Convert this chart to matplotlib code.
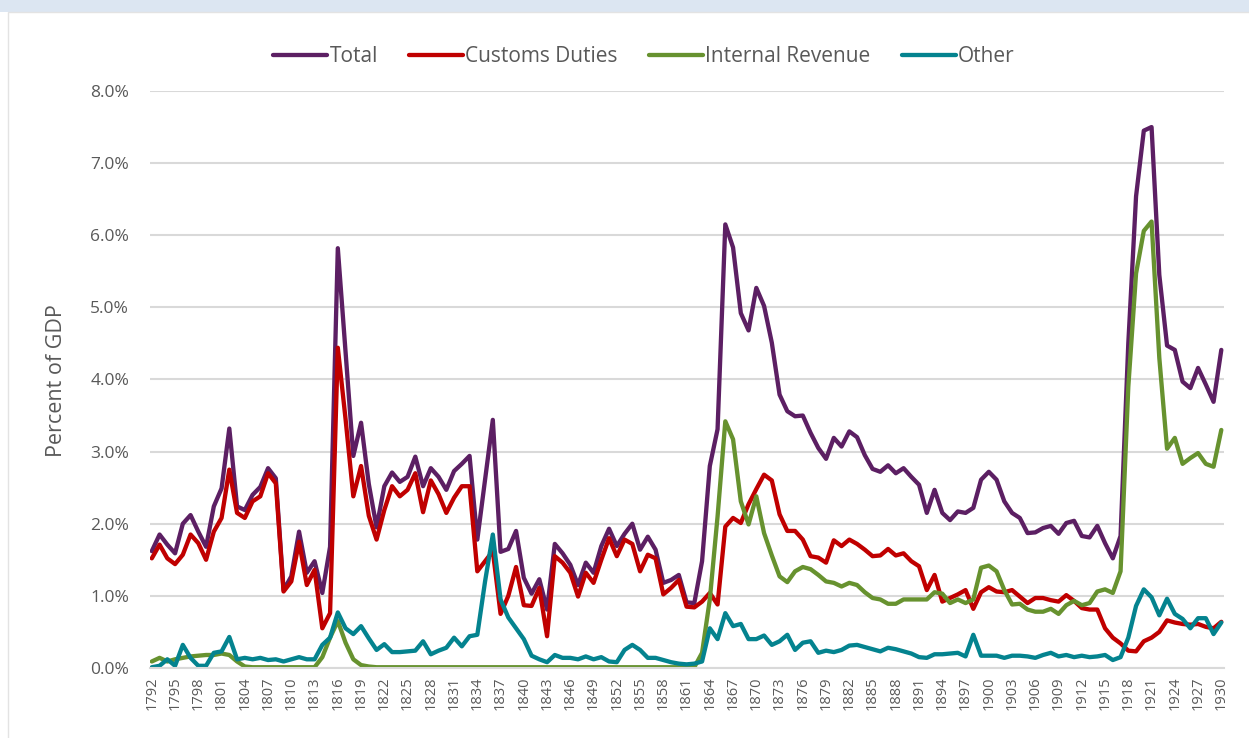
import matplotlib
matplotlib.use("Agg")
import matplotlib.pyplot as plt
from matplotlib.patches import Rectangle
from matplotlib.ticker import FuncFormatter
import numpy as np

plt.rcParams['font.family'] = ['Open Sans', 'DejaVu Sans']

years = list(range(1792, 1931))

total = [
    1.62, 1.85, 1.71, 1.59, 2.00, 2.12, 1.89, 1.68,                    # 1792-1799
    2.24, 2.49, 3.32, 2.24, 2.19, 2.40, 2.51, 2.77, 2.63, 1.08,        # 1800-1809
    1.27, 1.89, 1.32, 1.48, 1.04, 1.68, 5.82, 4.38, 2.94, 3.40,        # 1810-1819
    2.55, 1.95, 2.52, 2.71, 2.58, 2.65, 2.93, 2.52, 2.77, 2.65,        # 1820-1829
    2.47, 2.73, 2.83, 2.94, 1.78, 2.61, 3.44, 1.61, 1.65, 1.90,        # 1830-1839
    1.25, 1.03, 1.23, 0.81, 1.72, 1.59, 1.43, 1.15, 1.46, 1.32,        # 1840-1849
    1.69, 1.93, 1.69, 1.86, 2.00, 1.64, 1.82, 1.64, 1.18, 1.22,        # 1850-1859
    1.29, 0.91, 0.90, 1.48, 2.80, 3.31, 6.15, 5.83, 4.92, 4.68,        # 1860-1869
    5.27, 5.02, 4.51, 3.79, 3.56, 3.49, 3.50, 3.26, 3.05, 2.90,        # 1870-1879
    3.19, 3.07, 3.28, 3.20, 2.95, 2.76, 2.72, 2.81, 2.70, 2.77,        # 1880-1889
    2.65, 2.54, 2.15, 2.47, 2.15, 2.05, 2.17, 2.15, 2.22, 2.61,        # 1890-1899
    2.72, 2.61, 2.31, 2.15, 2.08, 1.87, 1.88, 1.94, 1.97, 1.86,        # 1900-1909
    2.01, 2.04, 1.83, 1.81, 1.97, 1.73, 1.52, 1.83, 4.50, 6.54,        # 1910-1919
    7.45, 7.50, 5.45, 4.47, 4.41, 3.97, 3.88, 4.16, 3.93, 3.69,        # 1920-1929
    4.41,                                                              # 1930
]

customs = [
    1.52, 1.71, 1.52, 1.44, 1.57, 1.85, 1.73, 1.50,
    1.89, 2.08, 2.75, 2.15, 2.08, 2.31, 2.38, 2.70, 2.56, 1.06,
    1.20, 1.75, 1.15, 1.36, 0.55, 0.76, 4.44, 3.45, 2.38, 2.80,
    2.11, 1.78, 2.19, 2.52, 2.38, 2.47, 2.70, 2.16, 2.60, 2.41,
    2.15, 2.36, 2.52, 2.52, 1.34, 1.48, 1.62, 0.75, 1.00, 1.40,
    0.87, 0.86, 1.11, 0.44, 1.55, 1.46, 1.32, 0.99, 1.32, 1.18,
    1.50, 1.80, 1.55, 1.78, 1.72, 1.34, 1.57, 1.52, 1.02, 1.11,
    1.22, 0.85, 0.84, 0.92, 1.04, 0.88, 1.96, 2.08, 2.01, 2.27,
    2.48, 2.68, 2.60, 2.13, 1.90, 1.90, 1.78, 1.55, 1.53, 1.46,
    1.77, 1.69, 1.78, 1.72, 1.64, 1.55, 1.56, 1.65, 1.56, 1.59,
    1.48, 1.41, 1.08, 1.29, 0.92, 0.97, 1.02, 1.08, 0.82, 1.05,
    1.12, 1.06, 1.05, 1.08, 0.99, 0.90, 0.97, 0.97, 0.94, 0.92,
    1.01, 0.93, 0.83, 0.81, 0.81, 0.55, 0.42, 0.34, 0.24, 0.23,
    0.37, 0.42, 0.50, 0.66, 0.63, 0.61, 0.60, 0.61, 0.57, 0.55,
    0.64,
]

internal = [
    0.09, 0.14, 0.09, 0.12, 0.14, 0.16, 0.17, 0.18,
    0.18, 0.20, 0.18, 0.09, 0.02, 0.01, 0.01, 0.01, 0.01, 0.01,
    0.01, 0.01, 0.01, 0.01, 0.15, 0.42, 0.65, 0.35, 0.12, 0.04,
    0.02, 0.01, 0.01, 0.01, 0.01, 0.01, 0.01, 0.01, 0.01, 0.01,
    0.01, 0.01, 0.01, 0.01, 0.01, 0.01, 0.01, 0.01, 0.01, 0.01,
    0.01, 0.01, 0.01, 0.01, 0.01, 0.01, 0.01, 0.01, 0.01, 0.01,
    0.01, 0.01, 0.01, 0.01, 0.01, 0.01, 0.01, 0.01, 0.01, 0.01,
    0.01, 0.01, 0.01, 0.21, 0.95, 2.10, 3.42, 3.17, 2.31, 1.99,
    2.38, 1.87, 1.56, 1.27, 1.19, 1.34, 1.40, 1.37, 1.29, 1.20,
    1.18, 1.13, 1.18, 1.15, 1.05, 0.97, 0.95, 0.89, 0.89, 0.95,
    0.95, 0.95, 0.95, 1.05, 1.03, 0.90, 0.95, 0.90, 0.95, 1.39,
    1.42, 1.34, 1.08, 0.88, 0.89, 0.81, 0.78, 0.78, 0.82, 0.75,
    0.87, 0.93, 0.87, 0.90, 1.06, 1.09, 1.04, 1.34, 3.90, 5.47,
    6.06, 6.19, 4.30, 3.04, 3.19, 2.83, 2.91, 2.98, 2.83, 2.79,
    3.30,
]

other = [
    0.01, 0.03, 0.12, 0.03, 0.32, 0.14, 0.03, 0.03,
    0.21, 0.23, 0.43, 0.12, 0.14, 0.12, 0.14, 0.11, 0.12, 0.09,
    0.12, 0.15, 0.12, 0.12, 0.32, 0.42, 0.77, 0.55, 0.47, 0.58,
    0.41, 0.25, 0.33, 0.22, 0.22, 0.23, 0.24, 0.37, 0.19, 0.24,
    0.28, 0.42, 0.30, 0.44, 0.46, 1.20, 1.85, 0.95, 0.70, 0.55,
    0.40, 0.17, 0.12, 0.08, 0.18, 0.14, 0.14, 0.12, 0.16, 0.12,
    0.15, 0.09, 0.08, 0.25, 0.32, 0.25, 0.14, 0.14, 0.11, 0.08,
    0.06, 0.05, 0.06, 0.09, 0.55, 0.40, 0.76, 0.58, 0.61, 0.40,
    0.40, 0.45, 0.32, 0.37, 0.46, 0.25, 0.35, 0.37, 0.21, 0.24,
    0.22, 0.25, 0.31, 0.32, 0.29, 0.26, 0.23, 0.28, 0.26, 0.23,
    0.20, 0.15, 0.14, 0.19, 0.19, 0.20, 0.21, 0.16, 0.46, 0.17,
    0.17, 0.17, 0.14, 0.17, 0.17, 0.16, 0.14, 0.18, 0.21, 0.16,
    0.18, 0.15, 0.17, 0.15, 0.16, 0.18, 0.11, 0.15, 0.42, 0.86,
    1.09, 0.98, 0.73, 0.96, 0.75, 0.68, 0.55, 0.69, 0.69, 0.47,
    0.63,
]

series = [
    ("Total", total, "#5C1F63"),
    ("Customs Duties", customs, "#C00000"),
    ("Internal Revenue", internal, "#67922F"),
    ("Other", other, "#04838F"),
]

grey = "#595959"

fig = plt.figure(figsize=(12.49, 7.38), dpi=100)
# chart frame like the spreadsheet chart area
fig.patches.append(Rectangle((0, 0.984), 1, 0.016, transform=fig.transFigure,
                             facecolor="#DCE6F2", edgecolor="none"))
fig.patches.append(Rectangle((0.0064, -0.01), 1.1, 0.994, transform=fig.transFigure,
                             facecolor="none", edgecolor="#E3E3E3", linewidth=1))

ax = fig.add_axes([0.120, 0.0949, 0.860, 0.7818])

for name, vals, col in series:
    ax.plot(years, np.array(vals) / 100, color=col, linewidth=3.1, label=name,
            solid_joinstyle="round", solid_capstyle="round")

ax.set_xlim(1791.75, 1930.35)
ax.set_ylim(0, 0.08)
ax.set_yticks(np.arange(0, 0.081, 0.01))
ax.yaxis.set_major_formatter(FuncFormatter(lambda v, p: f"{v * 100:.1f}%"))
ax.set_xticks(years[::3])
ax.set_xticklabels([str(y) for y in years[::3]], rotation=90)

ax.grid(axis="y", color="#D9D9D9", linewidth=1.5)
ax.set_axisbelow(True)
for s in ["top", "right", "left"]:
    ax.spines[s].set_visible(False)
ax.spines["bottom"].set_color("#D9D9D9")
ax.spines["bottom"].set_linewidth(1.5)
ax.tick_params(axis="y", length=0, labelsize=12.5, labelcolor=grey, pad=15)
ax.tick_params(axis="x", length=0, labelsize=10.5, labelcolor=grey, pad=6)

fig.text(57 / 1249, 1 - 381 / 738, "Percent of GDP", rotation=90, ha="center",
         va="center", fontsize=15.5, color=grey)

ax.legend(loc="upper center", bbox_to_anchor=(0.46, 1.11), ncol=4, frameon=False,
          fontsize=15, labelcolor=grey, handlelength=2.6, handletextpad=0.1,
          columnspacing=1.5)

fig.savefig("out.png", dpi=100)
